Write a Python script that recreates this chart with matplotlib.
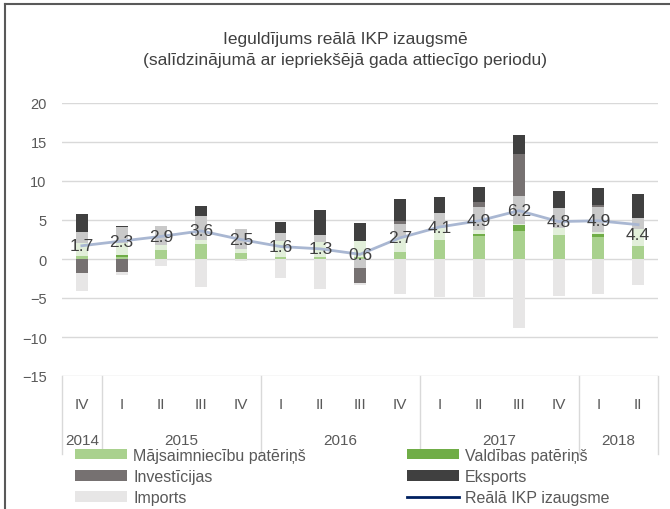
import matplotlib.pyplot as plt
from matplotlib.lines import Line2D
from matplotlib.patches import Patch
import matplotlib.transforms as mtransforms
import numpy as np

plt.rcParams['font.family'] = ['Liberation Sans', 'DejaVu Sans']

# dati
quarters = ['IV', 'I', 'II', 'III', 'IV', 'I', 'II', 'III', 'IV', 'I', 'II', 'III', 'IV', 'I', 'II']
years = ['2014', '2015', '2016', '2017', '2018']
year_counts = [1, 4, 4, 4, 2]

majsaimn = [0.4, 0.2, 1.1, 1.95, 0.75, 0.2, 0.2, 0.3, 0.95, 2.45, 2.9, 3.65, 3.1, 2.8, 1.7]
valdiba = [0, 0.35, 0, 0, 0, 0, 0, 0, 0, 0, 0.35, 0.7, 0, 0.4, 0]
citi_pat = [1.6, 1.5, 0.65, 0.5, 0.55, 2.05, 2.0, 2.0, 1.85, 1.55, 0.5, 0.1, 0.86, 0.2, 2.1]
krajumi = [1.4, 2.06, 2.5, 3.0, 2.6, 1.08, 0.86, -1.2, 1.63, 1.9, 2.9, 3.57, 2.58, 3.24, 1.5]
investicijas = [-1.85, -1.7, 0, 0, 0, 0, 0, -1.85, 0.5, 0, 0.7, 5.4, 0, 0.3, 0]
eksports = [2.4, 0.15, 0, 1.3, 0, 1.4, 3.2, 2.3, 2.7, 2.0, 1.9, 2.45, 2.15, 2.15, 3.0]
imports = [-2.25, -0.35, -0.9, -3.55, -0.2, -2.4, -3.85, -0.3, -4.5, -4.9, -4.85, -8.9, -4.75, -4.55, -3.35]
ikp = [1.7, 2.3, 2.9, 3.6, 2.5, 1.6, 1.3, 0.6, 2.7, 4.1, 4.9, 6.2, 4.8, 4.9, 4.4]

series = [
    (majsaimn, '#A9D18E', 'Mājsaimniecību patēriņš'),
    (valdiba, '#70AD47', 'Valdības patēriņš'),
    (citi_pat, '#E2EFDA', None),
    (krajumi, '#C9C9C9', None),
    (investicijas, '#767171', 'Investīcijas'),
    (eksports, '#404040', 'Eksports'),
    (imports, '#E7E6E6', 'Imports'),
]

fig = plt.figure(figsize=(6.7, 5.1), dpi=100)
ax = fig.add_axes([62 / 670, 1 - 377 / 510, 596 / 670, 273 / 510])

x = np.arange(len(quarters))
pos_bottom = np.zeros(len(x))
neg_bottom = np.zeros(len(x))
handles = {}
for vals, col, lab in series:
    v = np.array(vals, dtype=float)
    bottom = np.where(v >= 0, pos_bottom, neg_bottom)
    ax.bar(x, v, width=0.3, bottom=bottom, color=col, linewidth=0, zorder=2)
    pos_bottom += np.where(v > 0, v, 0)
    neg_bottom += np.where(v < 0, v, 0)
    if lab:
        handles[lab] = Patch(facecolor=col, edgecolor='none', label=lab)

ax.plot(x, ikp, color='#A9B7D2', linewidth=2, zorder=3)
for i, v in enumerate(ikp):
    if i == len(ikp) - 1:
        ax.annotate(f'{v:.1f}', (x[i], v), xytext=(0, -2), textcoords='offset points',
                    ha='center', va='top', fontsize=12.5, color='#404040', zorder=4)
    else:
        ax.text(x[i], v, f'{v:.1f}', ha='center', va='center', fontsize=12.5,
                color='#404040', zorder=4)

ax.set_xlim(-0.5, len(x) - 0.5)
ax.set_ylim(-15, 20)
ax.set_yticks(np.arange(-15, 21, 5))
ax.tick_params(axis='y', length=0, pad=11, labelsize=10.5, labelcolor='#595959')
ax.set_xticks([])
ax.grid(axis='y', color='#D9D9D9', linewidth=1, zorder=0)
ax.set_axisbelow(True)
for s in ax.spines.values():
    s.set_visible(False)

# kategoriju ass
trans = mtransforms.blended_transform_factory(ax.transData, ax.transAxes)
for i, q in enumerate(quarters):
    ax.text(x[i], -0.103, q, transform=trans, ha='center', va='center',
            fontsize=11, color='#595959')
edges = np.concatenate([[0], np.cumsum(year_counts)]) - 0.5
for k, y in enumerate(years):
    ax.text((edges[k] + edges[k + 1]) / 2, -0.234, y, transform=trans, ha='center',
            va='center', fontsize=11, color='#595959')
for e in edges:
    ax.plot([e, e], [0, -0.285], transform=trans, color='#D9D9D9', linewidth=1,
            clip_on=False)

# virsraksts
fig.text(345 / 670, 1 - 40 / 510, 'Ieguldījums reālā IKP izaugsmē', ha='center',
         va='center', fontsize=12.5, color='#404040')
fig.text(345 / 670, 1 - 60 / 510, '(salīdzinājumā ar iepriekšējā gada attiecīgo periodu)',
         ha='center', va='center', fontsize=12.5, color='#404040')

# leģenda
line_h = Line2D([], [], color='#002060', linewidth=2, label='Reālā IKP izaugsme')
order = [handles['Mājsaimniecību patēriņš'], handles['Investīcijas'], handles['Imports'],
         handles['Valdības patēriņš'], handles['Eksports'], line_h]
fig.legend(handles=order, ncol=2, loc='upper left', bbox_to_anchor=(75 / 670, 1 - 449 / 510),
           frameon=False, fontsize=11.5, labelcolor='#595959', handlelength=3.25,
           handleheight=0.6, handletextpad=0.4, columnspacing=6.3, labelspacing=0.38,
           borderpad=0, borderaxespad=0)

# rāmis
fig.add_artist(Line2D([5 / 670, 5 / 670], [0, 1 - 5 / 510], color='#595959', linewidth=1.5))
fig.add_artist(Line2D([5 / 670, 1], [1 - 5 / 510, 1 - 5 / 510], color='#595959', linewidth=1.5))

fig.savefig('out.png', dpi=100)
